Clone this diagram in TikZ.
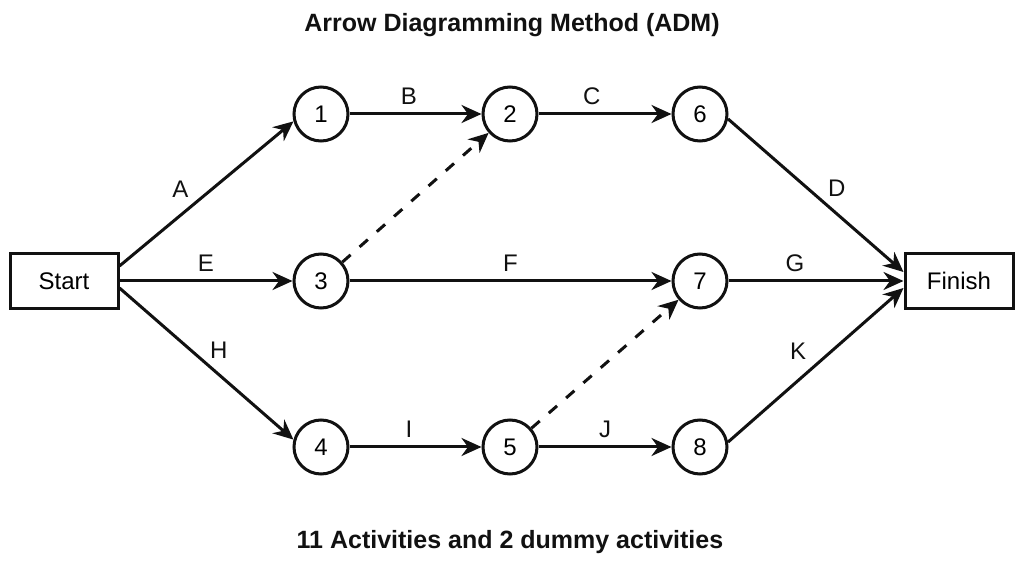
\documentclass[tikz,border=0pt]{standalone}
\usepackage{fontspec}
\setmainfont{Liberation Sans}
\usetikzlibrary{arrows.meta, positioning}
\definecolor{cink}{HTML}{111111}
\tikzset{
  every picture/.style={line width=1.5pt, x=0.5pt, y=-0.5pt},
  event/.style={draw=cink, circle, minimum size=27pt, inner sep=0pt, font=\fontsize{12}{14}\selectfont},
  endbox/.style={draw=cink, rectangle, minimum width=54pt, minimum height=27.5pt, inner sep=0pt, font=\fontsize{12}{14}\selectfont},
  arrow/.style={-{Stealth[length=10pt, width=9pt]}, draw=cink},
  dummy/.style={arrow, dash pattern=on 5.5pt off 6pt},
  lbl/.style={font=\fontsize{12}{14}\selectfont, text=cink, inner sep=2pt},
  title/.style={font=\fontsize{12.5}{15}\selectfont\bfseries, text=cink},
}

\begin{document}
\begin{tikzpicture}
  \useasboundingbox (0,0) rectangle (1024,566);
  \node[title] (head) at (512,25) {Arrow Diagramming Method (ADM)};
  % events
  \node[endbox] (start) at (64,281) {Start};
  \node[endbox] (finish) at (959,281) {Finish};
  \node[event] (n1) at (321,114) {1};
  \node[event] (n2) at (510,114) {2};
  \node[event] (n6) at (700,114) {6};
  \node[event] (n3) at (321,281) {3};
  \node[event] (n7) at (700,281) {7};
  \node[event] (n4) at (321,447) {4};
  \node[event] (n5) at (510,447) {5};
  \node[event] (n8) at (700,447) {8};
  \coordinate (sa) at ([yshift=7.5pt]start.east);
  \coordinate (sh) at ([yshift=-3.5pt]start.east);
  \coordinate (fd) at ([yshift=4.5pt]finish.west);
  \coordinate (fk) at ([yshift=-3.5pt]finish.west);
  % activities
  \draw[arrow] (sa) -- node[lbl, pos=0.35, yshift=13pt] {A} (n1.195);
  \draw[arrow] (n1) -- node[lbl, above=2pt, pos=0.45] {B} (n2);
  \draw[arrow] (n2) -- node[lbl, above=2pt, pos=0.4] {C} (n6);
  \draw[arrow] (n6.-10) -- node[lbl, pos=0.62, yshift=13pt] {D} (fd);
  \draw[arrow] (start.east) -- node[lbl, above=2pt, pos=0.5] {E} (n3);
  \draw[arrow] (n3) -- node[lbl, above=2pt] {F} (n7);
  \draw[arrow] (n7) -- node[lbl, above=2pt, pos=0.38] {G} (finish.west);
  \draw[arrow] (sh) -- node[lbl, pos=0.57, yshift=12pt] {H} (n4.165);
  \draw[arrow] (n4) -- node[lbl, above=2pt, pos=0.45] {I} (n5);
  \draw[arrow] (n5) -- node[lbl, above=2pt, pos=0.5] {J} (n8);
  \draw[arrow] (n8.10) -- node[lbl, pos=0.4, yshift=14.5pt] {K} (fk);
  % dummies
  \draw[dummy] (n3) -- (n2);
  \draw[dummy] (n5) -- (n7);
  \node[title] (foot) at (510,542) {11 Activities and 2 dummy activities};
\end{tikzpicture}
\end{document}
